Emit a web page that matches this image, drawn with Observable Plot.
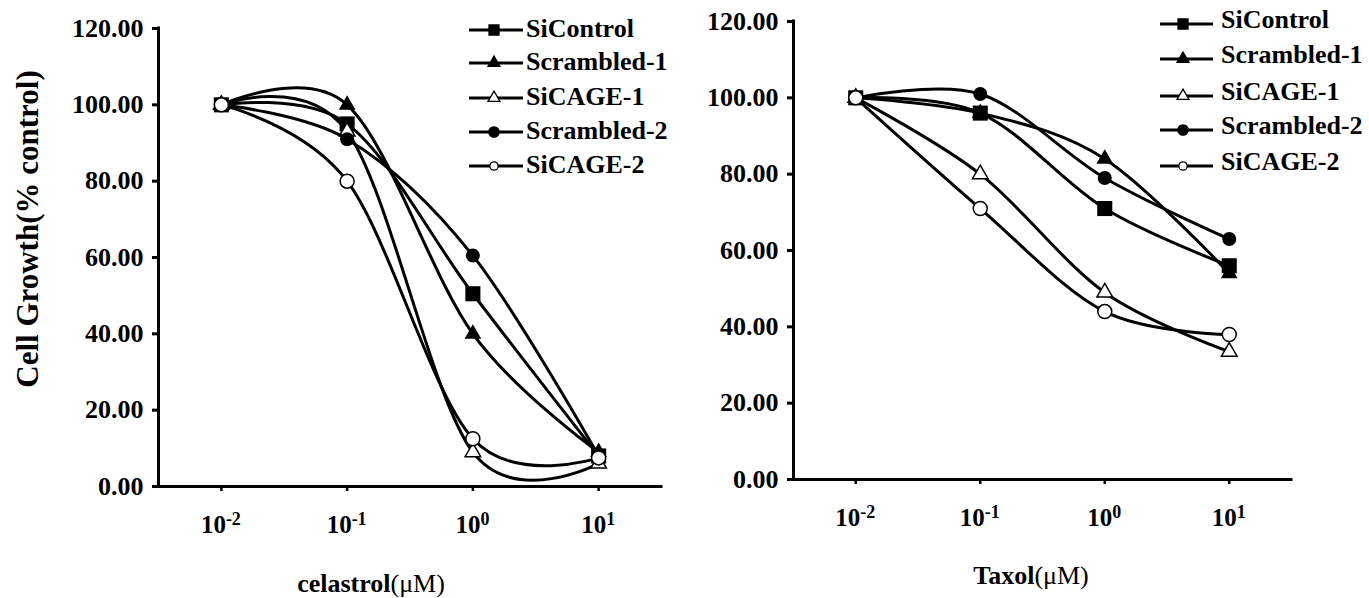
<!DOCTYPE html>
<html>
<head>
<meta charset="utf-8">
<script src="https://cdn.jsdelivr.net/npm/d3@7"></script>
<script src="https://cdn.jsdelivr.net/npm/@observablehq/plot@0.6"></script>
<style>
  html, body { margin: 0; padding: 0; background: white; }
  #wrap { position: relative; width: 1369px; height: 598px; overflow: hidden; background: white; }
  #wrap > svg { position: absolute; top: 0; }
</style>
</head>
<body>
<div id="wrap"></div>
<script>
// ---------- data ----------
const doses = [0.01, 0.1, 1, 10];
const seriesNames = ["SiControl", "Scrambled-1", "SiCAGE-1", "Scrambled-2", "SiCAGE-2"];

const celastrolSiControl   = [100, 95, 50.5, 8];
const celastrolScrambled1  = [100, 100, 40, 9];
const celastrolSiCAGE1     = [100, 93, 9, 6];
const celastrolScrambled2  = [100, 91, 60.5, 8];
const celastrolSiCAGE2     = [100, 80, 12.5, 7.5];

const taxolSiControl   = [100, 96, 71, 56];
const taxolScrambled1  = [100, 96, 84, 54];
const taxolSiCAGE1     = [100, 80, 49, 33.5];
const taxolScrambled2  = [100, 101, 79, 63];
const taxolSiCAGE2     = [100, 71, 44, 38];

const yTicks = [0, 20, 40, 60, 80, 100, 120];
const xTickValues = [0.01, 0.1, 1, 10];
const xTickBase = "10";
const xTickExponents = ["-2", "-1", "0", "1"];
const yLabel = "Cell Growth(% control)";
const leftDrug = "celastrol";
const rightDrug = "Taxol";
const unitText = "(μM)";

// ---------- styles ----------
const FONT = "'Liberation Serif', 'Times New Roman', Times, serif";
const markerStyles = [
  {symbol: "square",   r: 8.5, fill: "black", stroke: "none"},
  {symbol: "triangle", r: 6.2, fill: "black", stroke: "none"},
  {symbol: "triangle", r: 5.8, fill: "white", stroke: "black"},
  {symbol: "circle",   r: 7,   fill: "black", stroke: "none"},
  {symbol: "circle",   r: 7,   fill: "white", stroke: "black"}
];

function buildRows(arrays) {
  const rows = [];
  arrays.forEach((vals, si) => {
    vals.forEach((v, i) => rows.push({series: seriesNames[si], dose: doses[i], value: v}));
  });
  return rows;
}

const xMin = Math.pow(10, -2.5), xMax = Math.pow(10, 1.5);

function panel(rows, layout) {
  const marks = [];
  seriesNames.forEach((name, si) => {
    const d = rows.filter(r => r.series === name);
    marks.push(Plot.line(d, {x: "dose", y: "value", curve: "cardinal", stroke: "black", strokeWidth: 3}));
    const m = markerStyles[si];
    marks.push(Plot.dot(d, {x: "dose", y: "value", symbol: m.symbol, r: m.r, fill: m.fill, stroke: m.stroke, strokeWidth: 1.5}));
  });
  marks.push(Plot.ruleX([xMin], {y1: 0, y2: 120, strokeWidth: 3, strokeLinecap: "square"}));
  marks.push(Plot.ruleY([0], {x1: xMin, x2: xMax, strokeWidth: 3, strokeLinecap: "square"}));
  marks.push(Plot.axisY({ticks: yTicks, tickFormat: d => d.toFixed(2), tickSize: 6, tickPadding: 9, strokeWidth: 3, label: null}));
  marks.push(Plot.axisX({ticks: xTickValues, tickFormat: () => "", tickSize: 5, strokeWidth: 2.5, label: null}));
  const svg = Plot.plot({
    width: layout.width, height: 598,
    marginLeft: layout.ml, marginRight: layout.mr, marginTop: layout.mt, marginBottom: layout.mb,
    x: {type: "log", domain: [xMin, xMax]},
    y: {domain: [0, 120]},
    style: {fontFamily: FONT, fontSize: "26px", fontWeight: "bold", color: "black", background: "transparent", overflow: "visible"},
    marks
  });
  svg.style.left = layout.left + "px";
  return svg;
}

const wrap = document.getElementById("wrap");
const leftLayout = {left: 0, width: 700, ml: 158, mr: 39, mt: 28, mb: 112};
const rightLayout = {left: 700, width: 669, ml: 93, mr: 78, mt: 21, mb: 119};
const leftSvg = panel(buildRows([celastrolSiControl, celastrolScrambled1, celastrolSiCAGE1, celastrolScrambled2, celastrolSiCAGE2]), leftLayout);
const rightSvg = panel(buildRows([taxolSiControl, taxolScrambled1, taxolSiCAGE1, taxolScrambled2, taxolSiCAGE2]), rightLayout);
wrap.appendChild(leftSvg);
wrap.appendChild(rightSvg);

// ---------- overlay: tick labels, legends and axis titles ----------
const ov = d3.select(wrap).append("svg")
  .attr("width", 1369).attr("height", 598)
  .style("left", "0px").style("pointer-events", "none")
  .attr("font-family", FONT).attr("font-weight", "bold").attr("fill", "black");

function xTickLabels(svg, layout) {
  const xs = svg.scale("x"), ys = svg.scale("y");
  const base = ys.apply(0) + 47;
  xTickValues.forEach((d, i) => {
    const t = ov.append("text").attr("x", layout.left + xs.apply(d)).attr("y", base)
      .attr("text-anchor", "middle").attr("font-size", 25);
    t.append("tspan").text(xTickBase);
    t.append("tspan").attr("dy", -8).attr("font-size", 18).text(xTickExponents[i]);
  });
}
xTickLabels(leftSvg, leftLayout);
xTickLabels(rightSvg, rightLayout);

const legendSymbols = [
  {type: d3.symbolSquare, size: 100, fill: "black"},
  {type: d3.symbolTriangle, size: 62, fill: "black"},
  {type: d3.symbolTriangle, size: 62, fill: "white"},
  {type: d3.symbolCircle, size: 85, fill: "black"},
  {type: d3.symbolCircle, size: 55, fill: "white"}
];

function legend(cfg) {
  seriesNames.forEach((name, i) => {
    const y = cfg.lineY[i];
    ov.append("line").attr("x1", cfg.x1).attr("x2", cfg.x2).attr("y1", y).attr("y2", y)
      .attr("stroke", "black").attr("stroke-width", 3);
    const s = legendSymbols[i];
    ov.append("path").attr("d", d3.symbol().type(s.type).size(s.size)())
      .attr("transform", `translate(${cfg.mx},${y})`)
      .attr("fill", s.fill).attr("stroke", "black").attr("stroke-width", 1.3);
    ov.append("text").attr("x", cfg.tx).attr("y", y + cfg.off).attr("font-size", 26).text(name);
  });
}
legend({x1: 469, x2: 523, mx: 494, tx: 526, off: 7, lineY: [30, 63, 98, 132, 166]});
legend({x1: 1160, x2: 1213, mx: 1183, tx: 1221, off: 4, lineY: [24, 59, 96, 130, 166]});

ov.append("text").attr("transform", "translate(38,229) rotate(-90)")
  .attr("text-anchor", "middle").attr("font-size", 31).text(yLabel);

function xTitle(x, y, drug) {
  const t = ov.append("text").attr("x", x).attr("y", y).attr("text-anchor", "middle").attr("font-size", 26);
  t.append("tspan").text(drug);
  t.append("tspan").attr("font-weight", "normal").text(unitText);
}
xTitle(371, 592, leftDrug);
xTitle(1031, 584, rightDrug);
</script>
</body>
</html>
